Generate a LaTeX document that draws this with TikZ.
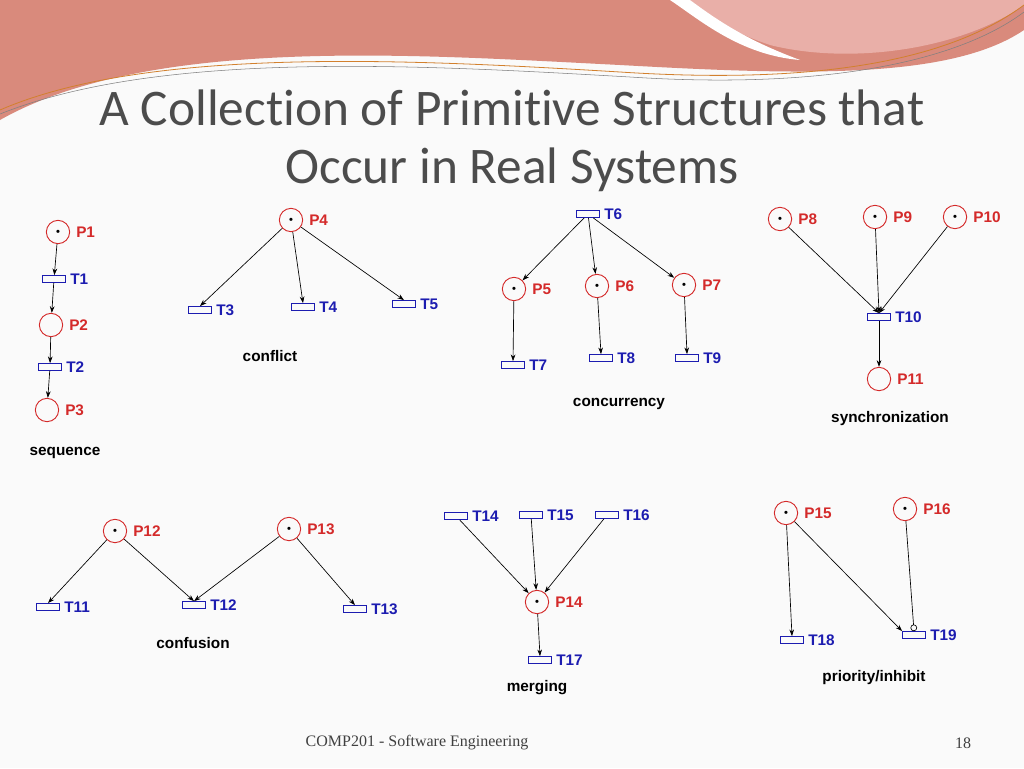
\documentclass[tikz,border=0pt]{standalone}
\usepackage{fontspec}
\setmainfont{Liberation Sans}
\newfontfamily\titlefont[Ligatures={NoCommon,NoRequired,NoContextual}]{Carlito}
\newfontfamily\footfont{Liberation Serif}
\usetikzlibrary{arrows.meta}
\definecolor{pred}{HTML}{D42A2A}
\definecolor{tblue}{HTML}{1C1CB0}
\definecolor{band1}{HTML}{D98A7C}
\definecolor{band2}{HTML}{E9AFA8}
\tikzset{
 place/.style={circle,draw=pred,line width=0.7pt,minimum size=17.5pt,inner sep=0pt},
 tok/.style={place,label={[inner sep=0pt]center:{\tiny$\bullet$}}},
 trans/.style={rectangle,draw=tblue,line width=0.8pt,minimum width=17pt,minimum height=5pt,inner sep=0pt},
 pl/.style={text=pred,font=\bfseries\fontsize{11.5}{13}\selectfont,anchor=west,inner sep=0pt},
 tl/.style={text=tblue,font=\bfseries\fontsize{11.5}{13}\selectfont,anchor=west,inner sep=0pt},
 capt/.style={font=\bfseries\fontsize{11.5}{13}\selectfont},
 arc/.style={-{Stealth[length=5pt,width=3.5pt]},line width=0.5pt},
 inh/.style={-{Circle[open,length=5pt]},line width=0.5pt}
}
\begin{document}
\begin{tikzpicture}[x=0.75pt,y=-0.75pt]
\useasboundingbox (0,0) rectangle (1024,768);
\fill[white!96!gray] (0,0) rectangle (1024,768);
% banner
\fill[band1] (0,0) -- (1024,0) -- (1024,30) .. controls (950,80) and (800,75) .. (620,65) .. controls (420,55) and (150,35) .. (0,120) -- cycle;
\fill[band2] (690,0) -- (1024,0) -- (1024,5) .. controls (960,50) and (850,65) .. (770,45) .. controls (740,35) and (710,20) .. (690,0) -- cycle;
\fill[white] (690,0) .. controls (730,30) and (760,45) .. (800,60) .. controls (740,55) and (700,20) .. (670,0) -- cycle;
\draw[brown!70!orange,line width=0.6pt] (0,110) .. controls (150,45) and (420,60) .. (620,72) .. controls (820,85) and (950,60) .. (1024,5);
\draw[gray,line width=0.4pt] (0,114) .. controls (160,50) and (420,65) .. (630,77) .. controls (830,90) and (960,60) .. (1024,12);
% title
\node[font=\titlefont\fontsize{38.5}{46}\selectfont,text=black!70] (t1) at (512,108) {A Collection of Primitive Structures that};
\node[font=\titlefont\fontsize{38.5}{46}\selectfont,text=black!70] (t2) at (512,170) {Occur in Real Systems};
% sequence
\node[tok] (P1) at (58,232) {}; \node[pl] at (76,232) {P1};
\node[trans] (T1) at (54,279) {}; \node[tl] at (70,279) {T1};
\node[place] (P2) at (51,325) {}; \node[pl] at (69,325) {P2};
\node[trans] (T2) at (50,367) {}; \node[tl] at (66,367) {T2};
\node[place] (P3) at (47,410) {}; \node[pl] at (65,410) {P3};
\node[capt] (c1) at (65,453) {sequence};
\draw[arc] (P1)--(T1); \draw[arc] (T1)--(P2); \draw[arc] (P2)--(T2); \draw[arc] (T2)--(P3);
% conflict
\node[tok] (P4) at (291,220) {}; \node[pl] at (309,220) {P4};
\node[trans] (T3) at (200,310) {}; \node[tl] at (216,310) {T3};
\node[trans] (T4) at (303,307) {}; \node[tl] at (319,307) {T4};
\node[trans] (T5) at (404,304) {}; \node[tl] at (420,304) {T5};
\node[capt] (c2) at (270,356) {conflict};
\draw[arc] (P4)--(T3.north); \draw[arc] (P4)--(T4.north); \draw[arc] (P4)--(T5.north);
% concurrency
\node[trans] (T6) at (588,214) {}; \node[tl] at (604,214) {T6};
\node[tok] (P5) at (514,289) {}; \node[pl] at (532,289) {P5};
\node[tok] (P6) at (597,286) {}; \node[pl] at (615,286) {P6};
\node[tok] (P7) at (684,285) {}; \node[pl] at (702,285) {P7};
\node[trans] (T7) at (513,365) {}; \node[tl] at (529,365) {T7};
\node[trans] (T8) at (601,358) {}; \node[tl] at (617,358) {T8};
\node[trans] (T9) at (687,358) {}; \node[tl] at (703,358) {T9};
\node[capt] (c3) at (619,404) {concurrency};
\draw[arc] (T6)--(P5); \draw[arc] (T6)--(P6); \draw[arc] (T6)--(P7);
\draw[arc] (P5)--(T7.north); \draw[arc] (P6)--(T8.north); \draw[arc] (P7)--(T9.north);
% synchronization
\node[tok] (P8) at (780,219) {}; \node[pl] at (798,219) {P8};
\node[tok] (P9) at (875,217) {}; \node[pl] at (893,217) {P9};
\node[tok] (P10) at (955,217) {}; \node[pl] at (973,217) {P10};
\node[trans] (T10) at (879,317) {}; \node[tl] at (895,317) {T10};
\node[place] (P11) at (879,379) {}; \node[pl] at (897,379) {P11};
\node[capt] (c4) at (890,419) {synchronization};
\draw[arc] (P8)--(T10.north); \draw[arc] (P9)--(T10.north); \draw[arc] (P10)--(T10.north);
\draw[arc] (T10)--(P11);
% confusion
\node[tok] (P12) at (115,531) {}; \node[pl] at (133,531) {P12};
\node[tok] (P13) at (289,529) {}; \node[pl] at (307,529) {P13};
\node[trans] (T11) at (48,607) {}; \node[tl] at (64,607) {T11};
\node[trans] (T12) at (194,605) {}; \node[tl] at (210,605) {T12};
\node[trans] (T13) at (355,609) {}; \node[tl] at (371,609) {T13};
\node[capt] (c5) at (193,643) {confusion};
\draw[arc] (P12)--(T11.north); \draw[arc] (P12)--(T12.north); \draw[arc] (P13)--(T12.north); \draw[arc] (P13)--(T13.north);
% merging
\node[trans] (T14) at (456,516) {}; \node[tl] at (472,516) {T14};
\node[trans] (T15) at (531,515) {}; \node[tl] at (547,515) {T15};
\node[trans] (T16) at (607,515) {}; \node[tl] at (623,515) {T16};
\node[tok] (P14) at (537,602) {}; \node[pl] at (555,602) {P14};
\node[trans] (T17) at (540,660) {}; \node[tl] at (556,660) {T17};
\node[capt] (c6) at (537,688) {merging};
\draw[arc] (T14)--(P14); \draw[arc] (T15)--(P14); \draw[arc] (T16)--(P14); \draw[arc] (P14)--(T17.north);
% priority/inhibit
\node[tok] (P15) at (786,513) {}; \node[pl] at (804,513) {P15};
\node[tok] (P16) at (905,509) {}; \node[pl] at (923,509) {P16};
\node[trans] (T18) at (792,640) {}; \node[tl] at (808,640) {T18};
\node[trans] (T19) at (914,635) {}; \node[tl] at (930,635) {T19};
\node[capt] (c7) at (874,678) {priority/inhibit};
\draw[arc] (P15)--(T18.north); \draw[arc] (P15)--(T19.north west); \draw[inh] (P16)--(T19.north);
% footer
\node[font=\footfont\fontsize{12}{14}\selectfont,text=black!75] (f1) at (417,743) {COMP201 - Software Engineering};
\node[font=\footfont\fontsize{12}{14}\selectfont,text=black!75] (f2) at (963,743) {18};
\end{tikzpicture}
\end{document}
